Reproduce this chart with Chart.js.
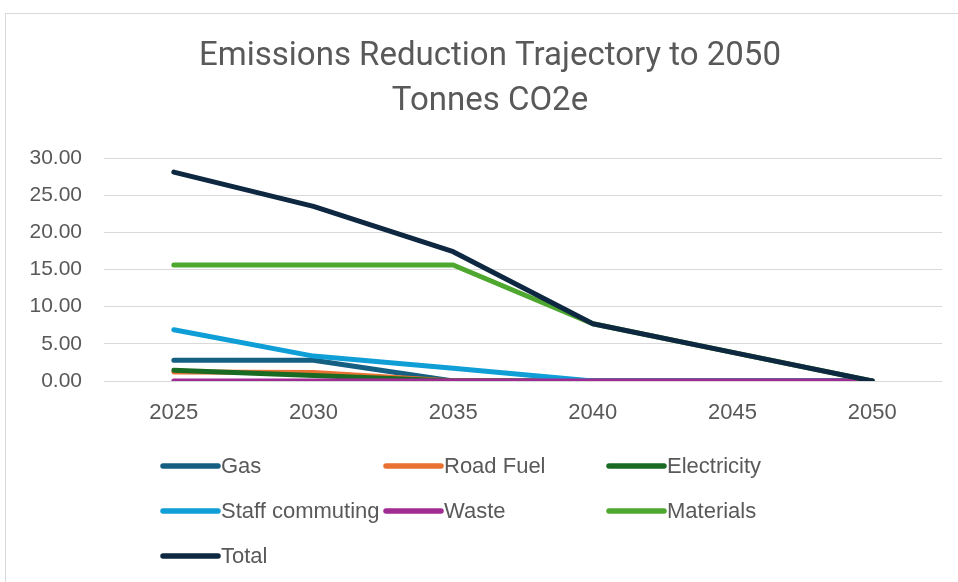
<!DOCTYPE html>
<html>
<head>
<meta charset="utf-8">
<script src="https://cdn.jsdelivr.net/npm/chart.js@4/dist/chart.umd.min.js"></script>
<style>
  html, body { margin: 0; padding: 0; background: #fff; }
  #wrap { position: relative; width: 958px; height: 582px; overflow: hidden; }
  #frame { position: absolute; left: 5px; top: 13px; width: 1000px; height: 1000px; border: 1px solid #d9d9d9; pointer-events: none; }
  canvas { position: absolute; left: 0; top: 0; }
</style>
</head>
<body>
<div id="wrap">
  <canvas id="c" width="958" height="582"></canvas>
  <div id="frame"></div>
</div>
<script>
const years = ["2025", "2030", "2035", "2040", "2045", "2050"];
const gas = [2.8, 2.8, 0, 0, 0, 0];
const roadFuel = [1.2, 1.15, 0, 0, 0, 0];
const electricity = [1.45, 0.75, 0, 0, 0, 0];
const staffCommuting = [6.9, 3.35, 1.7, 0, 0, 0];
const waste = [0, 0, 0, 0, 0, 0];
const materials = [15.6, 15.6, 15.6, 7.7, 3.85, 0];
const total = [28.1, 23.5, 17.4, 7.7, 3.85, 0];
const yTicks = [0, 5, 10, 15, 20, 25, 30];
const titleLines = ["Emissions Reduction Trajectory to 2050", "Tonnes CO2e"];

const seriesNames = ["Gas", "Road Fuel", "Electricity", "Staff commuting", "Waste", "Materials", "Total"];
const seriesData = [gas, roadFuel, electricity, staffCommuting, waste, materials, total];
const seriesColors = ["#156082", "#E97132", "#196B24", "#0F9ED5", "#A02B93", "#4EA72E", "#0E2841"];

const FONT = "'Liberation Sans', Arial, sans-serif";
const TITLE_FONT = "Roboto, 'Liberation Sans', sans-serif";
const GREY = "#595959";

const datasets = seriesNames.map((n, i) => ({
  label: n,
  data: seriesData[i],
  borderColor: seriesColors[i],
  backgroundColor: seriesColors[i],
  borderWidth: 5,
  pointRadius: 0,
  borderCapStyle: 'round',
  borderJoinStyle: 'round',
  tension: 0,
  fill: false,
  order: seriesNames.length - 1 - i
}));

const titlePlugin = {
  id: 'frameTitle',
  afterDraw(chart) {
    const ctx = chart.ctx;
    ctx.save();
    ctx.font = "33px " + TITLE_FONT;
    ctx.fillStyle = GREY;
    ctx.textAlign = 'center';
    ctx.textBaseline = 'middle';
    titleLines.forEach((t, i) => ctx.fillText(t, 490, 56.5 + i * 45));
    ctx.restore();
  }
};

const legendPlugin = {
  id: 'gridLegend',
  afterDraw(chart) {
    const ctx = chart.ctx;
    const colX = [163, 386, 609];
    const rowY = [466, 511, 556];
    ctx.save();
    ctx.font = "22px " + FONT;
    ctx.textBaseline = 'middle';
    ctx.textAlign = 'left';
    chart.data.datasets.forEach((ds, i) => {
      const x = colX[i % 3];
      const y = rowY[Math.floor(i / 3)];
      ctx.strokeStyle = ds.borderColor;
      ctx.lineWidth = 5.5;
      ctx.lineCap = 'round';
      ctx.beginPath();
      ctx.moveTo(x, y);
      ctx.lineTo(x + 55, y);
      ctx.stroke();
      ctx.fillStyle = GREY;
      ctx.fillText(ds.label, x + 58, y + 1);
    });
    ctx.restore();
  }
};

new Chart(document.getElementById('c'), {
  type: 'line',
  data: { labels: years, datasets },
  plugins: [titlePlugin, legendPlugin],
  options: {
    responsive: false,
    animation: false,
    layout: { padding: { top: 158, left: 0, right: 16, bottom: 0 } },
    plugins: {
      legend: { display: false },
      tooltip: { enabled: false },
      title: { display: false }
    },
    scales: {
      x: {
        offset: true,
        grid: { display: false, drawTicks: false },
        border: { display: false },
        ticks: { color: GREY, font: { family: FONT, size: 22 }, padding: 19, maxRotation: 0 },
        afterFit(s) { s.height = 201; }
      },
      y: {
        min: 0, max: 30,
        afterBuildTicks(s) { s.ticks = yTicks.map(v => ({ value: v })); },
        grid: { color: '#d9d9d9', lineWidth: 1, drawTicks: false },
        border: { display: false },
        ticks: { color: GREY, font: { family: FONT, size: 21 }, padding: 22, callback: v => Number(v).toFixed(2) },
        afterFit(s) { s.width = 104; }
      }
    }
  }
});
</script>
</body>
</html>
